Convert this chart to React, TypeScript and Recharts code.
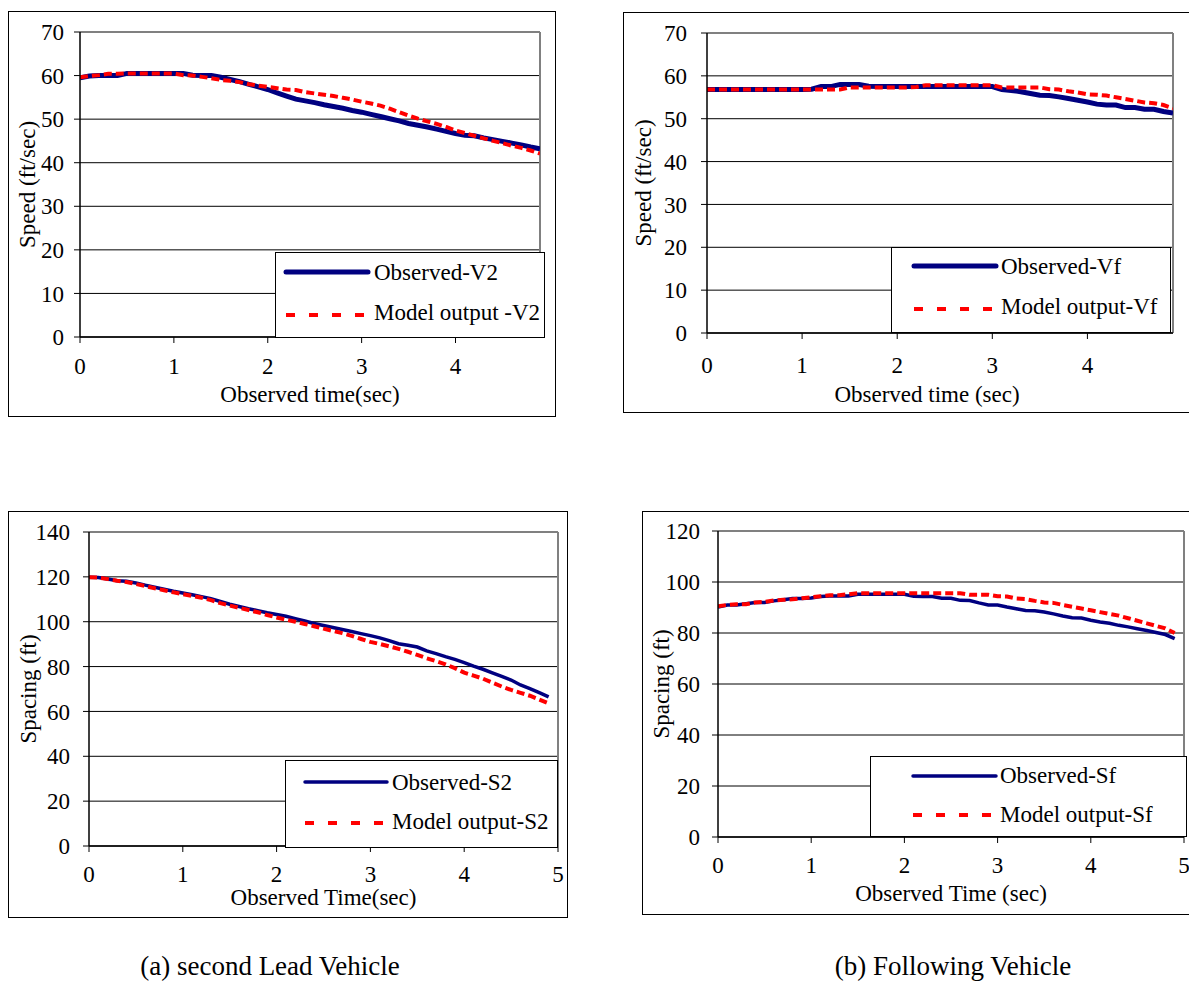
import React from "react";
import {
  LineChart,
  Line,
  XAxis,
  YAxis,
  CartesianGrid,
  ReferenceLine,
  Legend,
  Label,
} from "recharts";

const FONT = "'Liberation Serif', 'Times New Roman', serif";

// time axis, 0.1 s steps
const TIME = [
  0, 0.1, 0.2, 0.3, 0.4, 0.5, 0.6, 0.7, 0.8, 0.9,
  1, 1.1, 1.2, 1.3, 1.4, 1.5, 1.6, 1.7, 1.8, 1.9,
  2, 2.1, 2.2, 2.3, 2.4, 2.5, 2.6, 2.7, 2.8, 2.9,
  3, 3.1, 3.2, 3.3, 3.4, 3.5, 3.6, 3.7, 3.8, 3.9,
  4, 4.1, 4.2, 4.3, 4.4, 4.5, 4.6, 4.7, 4.8, 4.9,
];

// (a) second lead vehicle - speed
const V2_OBS = [
  59.5, 59.9, 60.0, 60.0, 60.0, 60.5, 60.5, 60.5, 60.5, 60.5,
  60.5, 60.5, 60.1, 60.0, 60.0, 59.6, 59.1, 58.6, 58.0, 57.4,
  56.8, 56.0, 55.3, 54.6, 54.2, 53.8, 53.3, 52.9, 52.5, 52.0,
  51.6, 51.1, 50.6, 50.1, 49.6, 49.0, 48.6, 48.2, 47.7, 47.2,
  46.7, 46.3, 46.2, 45.7, 45.3, 44.9, 44.5, 44.1, 43.6, 43.2,
];
const V2_MODEL = [
  59.6, 59.9, 60.1, 60.4, 60.4, 60.5, 60.5, 60.5, 60.5, 60.5,
  60.5, 60.1, 60.0, 59.7, 59.4, 59.0, 58.8, 58.5, 58.0, 57.7,
  57.4, 57.1, 56.8, 56.7, 56.2, 55.9, 55.6, 55.3, 54.9, 54.5,
  54.0, 53.6, 53.1, 52.4, 51.6, 50.8, 50.1, 49.5, 48.9, 48.2,
  47.4, 46.8, 46.2, 45.6, 45.0, 44.5, 43.9, 43.4, 42.8, 42.1,
];

// (b) following vehicle - speed
const VF_OBS = [
  56.8, 56.8, 56.8, 56.8, 56.8, 56.8, 56.8, 56.8, 56.8, 56.8,
  56.8, 56.9, 57.5, 57.5, 58.0, 58.0, 58.0, 57.6, 57.5, 57.5,
  57.5, 57.5, 57.5, 57.5, 57.5, 57.5, 57.5, 57.5, 57.5, 57.5,
  57.5, 56.8, 56.6, 56.3, 55.9, 55.5, 55.4, 55.1, 54.7, 54.3,
  53.9, 53.4, 53.2, 53.2, 52.6, 52.6, 52.2, 52.2, 51.7, 51.3,
];
const VF_MODEL = [
  56.8, 56.8, 56.8, 56.8, 56.8, 56.8, 56.8, 56.8, 56.8, 56.8,
  56.8, 56.8, 56.8, 56.8, 56.8, 57.3, 57.3, 57.3, 57.3, 57.3,
  57.3, 57.3, 57.4, 57.8, 57.8, 57.8, 57.8, 57.8, 57.8, 57.8,
  57.8, 57.3, 57.3, 57.3, 57.3, 57.3, 56.9, 56.8, 56.4, 56.1,
  55.7, 55.6, 55.4, 55.0, 54.6, 54.2, 53.8, 53.6, 53.2, 52.4,
];

// (a) second lead vehicle - spacing
const S2_OBS = [
  119.8, 119.7, 119.0, 118.3, 118.0, 117.3, 116.3, 115.4, 114.5, 113.6,
  112.8, 112.0, 111.2, 110.3, 109.0, 107.8, 106.8, 105.8, 104.9, 104.0,
  103.2, 102.4, 101.4, 100.3, 99.2, 98.3, 97.4, 96.5, 95.6, 94.7,
  93.8, 92.8, 91.6, 90.2, 89.5, 88.7, 87.0, 85.8, 84.4, 83.2,
  81.8, 80.2, 78.8, 77.2, 75.6, 74.0, 71.8, 70.2, 68.4, 66.5,
];
const S2_MODEL = [
  119.8, 119.7, 119.0, 118.3, 117.7, 116.8, 115.9, 114.9, 114.0, 113.1,
  112.3, 111.5, 110.7, 109.6, 108.3, 107.2, 106.2, 105.2, 104.2, 103.0,
  101.9, 100.9, 100.0, 99.0, 98.0, 96.9, 95.9, 94.9, 93.7, 92.3,
  91.0, 90.1, 89.0, 87.9, 86.6, 85.2, 83.7, 82.4, 81.0, 79.3,
  77.3, 76.0, 74.6, 72.8, 71.1, 69.6, 68.3, 67.0, 65.3, 63.6,
];

// (b) following vehicle - spacing
const SF_OBS = [
  90.2, 91.0, 91.0, 91.5, 92.0, 92.0, 92.6, 93.0, 93.5, 93.5,
  93.7, 94.3, 94.5, 94.5, 94.5, 95.2, 95.2, 95.2, 95.2, 95.2,
  95.2, 94.4, 94.3, 94.3, 93.6, 93.6, 92.8, 92.7, 91.8, 91.0,
  91.0, 90.2, 89.5, 88.8, 88.7, 88.2, 87.5, 86.7, 86.0, 85.9,
  85.0, 84.3, 83.8, 83.0, 82.4, 81.7, 81.0, 80.2, 79.4, 77.8,
];
const SF_MODEL = [
  90.5, 91.0, 91.3, 91.3, 92.0, 92.2, 92.8, 93.0, 93.2, 93.6,
  94.0, 94.4, 94.8, 94.8, 95.2, 95.6, 95.6, 95.6, 95.6, 95.6,
  95.6, 95.6, 95.6, 95.6, 95.6, 95.6, 95.6, 95.0, 95.0, 95.0,
  94.4, 94.3, 93.5, 93.3, 92.6, 92.0, 91.8, 91.0, 90.3, 89.6,
  88.9, 88.2, 87.5, 86.8, 85.8, 84.8, 83.8, 82.8, 81.8, 80.0,
];

const SPEED_TICKS = [0, 10, 20, 30, 40, 50, 60, 70];
const S2_TICKS = [0, 20, 40, 60, 80, 100, 120, 140];
const SF_TICKS = [0, 20, 40, 60, 80, 100, 120];
const T_TICKS_4 = [0, 1, 2, 3, 4];
const T_TICKS_5 = [0, 1, 2, 3, 4, 5];

const CAPTIONS = ["(a) second Lead Vehicle", "(b) Following Vehicle"];

const PANELS = [
  {
    left: 8, top: 11, width: 548, height: 406,
    mTop: 21, mRight: 16, yWidth: 72, xHeight: 80,
    xMax: 4.9, xTicks: T_TICKS_4, yMax: 70, yTicks: SPEED_TICKS,
    yTickMargin: 10, xTickMargin: 15,
    yLabel: "Speed (ft/sec)", yLabelOffset: 19,
    xLabel: "Observed time(sec)", xLabelOffset: 15, xLabelDx: 0,
    obs: V2_OBS, model: V2_MODEL,
    obsName: "Observed-V2", modelName: "Model output -V2",
    obsWidth: 5, fontSize: 23,
    lg: { left: 267, top: 241, width: 270, height: 86, x1: 11, x2: 93, y1: 20, y2: 63, tx: 99, t1: 28, t2: 68 },
  },
  {
    left: 623, top: 12, width: 572, height: 401,
    mTop: 21, mRight: 22, yWidth: 84, xHeight: 80,
    xMax: 4.9, xTicks: T_TICKS_4, yMax: 70, yTicks: SPEED_TICKS,
    yTickMargin: 14, xTickMargin: 18,
    yLabel: "Speed (ft/sec)", yLabelOffset: 20,
    xLabel: "Observed time (sec)", xLabelOffset: 11, xLabelDx: -13,
    obs: VF_OBS, model: VF_MODEL,
    obsName: "Observed-Vf", modelName: "Model output-Vf",
    obsWidth: 5, fontSize: 23,
    lg: { left: 268, top: 235, width: 280, height: 86, x1: 23, x2: 105, y1: 19, y2: 62, tx: 110, t1: 27, t2: 67 },
  },
  {
    left: 8, top: 511, width: 560, height: 407,
    mTop: 21, mRight: 10, yWidth: 81, xHeight: 72,
    xMax: 5, xTicks: T_TICKS_5, yMax: 140, yTicks: S2_TICKS,
    yTickMargin: 13, xTickMargin: 14,
    yLabel: "Spacing (ft)", yLabelOffset: 20,
    xLabel: "Observed Time(sec)", xLabelOffset: 13, xLabelDx: 0,
    obs: S2_OBS, model: S2_MODEL,
    obsName: "Observed-S2", modelName: "Model output-S2",
    obsWidth: 3.5, fontSize: 23,
    lg: { left: 277, top: 249, width: 273, height: 88, x1: 20, x2: 102, y1: 22, y2: 63, tx: 107, t1: 30, t2: 69 },
  },
  {
    left: 642, top: 511, width: 560, height: 404,
    mTop: 20, mRight: 18, yWidth: 76, xHeight: 78,
    xMax: 5, xTicks: T_TICKS_5, yMax: 120, yTicks: SF_TICKS,
    yTickMargin: 12, xTickMargin: 14,
    yLabel: "Spacing (ft)", yLabelOffset: 19,
    xLabel: "Observed Time (sec)", xLabelOffset: 14, xLabelDx: 0,
    obs: SF_OBS, model: SF_MODEL,
    obsName: "Observed-Sf", modelName: "Model output-Sf",
    obsWidth: 3.5, fontSize: 23,
    lg: { left: 228, top: 245, width: 317, height: 81, x1: 43, x2: 126, y1: 20, y2: 59, tx: 130, t1: 27, t2: 66 },
  },
];

const LINE_STYLE: any = {
  obs: { dash: undefined, legendDash: undefined },
  model: { dash: "8 4", legendDash: "9 14" },
};
const LEGEND_ORDER = ["obs", "model"];

function BoxLegend({ payload, lg, widths, fontSize }: any) {
  const items = [...(payload || [])].sort(
    (a: any, b: any) => LEGEND_ORDER.indexOf(a.dataKey) - LEGEND_ORDER.indexOf(b.dataKey)
  );
  const ys = [lg.y1, lg.y2];
  const ts = [lg.t1, lg.t2];
  return (
    <div
      style={{
        position: "relative",
        width: lg.width,
        height: lg.height,
        boxSizing: "border-box",
        border: "1px solid #000",
        background: "#fff",
      }}
    >
      <svg width={lg.width} height={lg.height} style={{ position: "absolute", left: -1, top: -1 }}>
        {items.map((it: any, i: number) => (
          <g key={it.dataKey}>
            <line
              x1={lg.x1}
              x2={lg.x2}
              y1={ys[i]}
              y2={ys[i]}
              stroke={it.color}
              strokeWidth={widths[it.dataKey]}
              strokeDasharray={LINE_STYLE[it.dataKey].legendDash}
              strokeLinecap={it.dataKey === "obs" ? "round" : "butt"}
            />
            <text x={lg.tx} y={ts[i]} fontFamily={FONT} fontSize={fontSize} fill="#000">
              {it.value}
            </text>
          </g>
        ))}
      </svg>
    </div>
  );
}

function Panel({ p }: any) {
  const data = TIME.map((t, i) => ({ t, obs: p.obs[i], model: p.model[i] }));
  const tick = { fill: "#000", fontSize: p.fontSize, fontFamily: FONT };
  return (
    <>
      <div
        style={{
          position: "absolute",
          left: p.left,
          top: p.top,
          width: p.width,
          height: p.height,
          boxSizing: "border-box",
          border: "1px solid #000",
        }}
      />
      <div style={{ position: "absolute", left: p.left, top: p.top }}>
        <LineChart
          width={p.width}
          height={p.height}
          data={data}
          margin={{ top: p.mTop, right: p.mRight, left: 0, bottom: 0 }}
        >
          <CartesianGrid vertical={false} stroke="#000" strokeWidth={1} />
          <XAxis
            dataKey="t"
            type="number"
            domain={[0, p.xMax]}
            ticks={p.xTicks}
            interval={0}
            height={p.xHeight}
            tickSize={6}
            tickMargin={p.xTickMargin}
            tick={tick}
            axisLine={{ stroke: "#000", strokeWidth: 1.5 }}
            tickLine={{ stroke: "#000" }}
            allowDataOverflow
          >
            <Label
              value={p.xLabel}
              position="insideBottom"
              offset={p.xLabelOffset}
              dx={p.xLabelDx}
              fill="#000"
              fontSize={p.fontSize}
              fontFamily={FONT}
            />
          </XAxis>
          <YAxis
            type="number"
            domain={[0, p.yMax]}
            ticks={p.yTicks}
            interval={0}
            width={p.yWidth}
            tickSize={6}
            tickMargin={p.yTickMargin}
            tick={tick}
            axisLine={{ stroke: "#000", strokeWidth: 1.5 }}
            tickLine={{ stroke: "#000" }}
          >
            <Label
              value={p.yLabel}
              position="insideLeft"
              angle={-90}
              offset={p.yLabelOffset}
              fill="#000"
              fontSize={p.fontSize}
              fontFamily={FONT}
              style={{ textAnchor: "middle" }}
            />
          </YAxis>
          <ReferenceLine y={p.yMax} stroke="#808080" strokeWidth={2} />
          <ReferenceLine x={p.xMax} stroke="#808080" strokeWidth={2} />
          <Line
            type="linear"
            dataKey="obs"
            name={p.obsName}
            stroke="#000080"
            strokeWidth={p.obsWidth}
            dot={false}
            isAnimationActive={false}
          />
          <Line
            type="linear"
            dataKey="model"
            name={p.modelName}
            stroke="#ff0000"
            strokeWidth={4}
            strokeDasharray={LINE_STYLE.model.dash}
            dot={false}
            isAnimationActive={false}
          />
          <Legend
            layout="vertical"
            align="center"
            verticalAlign="middle"
            wrapperStyle={{
              left: p.lg.left,
              top: p.lg.top,
              width: p.lg.width,
              height: p.lg.height,
            }}
            content={(props: any) => (
              <BoxLegend
                payload={props.payload}
                lg={p.lg}
                widths={{ obs: p.obsWidth, model: 4 }}
                fontSize={p.fontSize}
              />
            )}
          />
        </LineChart>
      </div>
    </>
  );
}

export default function App() {
  return (
    <div
      style={{
        position: "absolute",
        left: 0,
        top: 0,
        width: 1189,
        height: 983,
        overflow: "hidden",
        background: "#fff",
        fontFamily: FONT,
      }}
    >
      {PANELS.map((p, i) => (
        <Panel key={i} p={p} />
      ))}
      <div style={{ position: "absolute", left: 70, width: 400, top: 951, lineHeight: "30px", fontSize: 27, textAlign: "center" }}>
        {CAPTIONS[0]}
      </div>
      <div style={{ position: "absolute", left: 753, width: 400, top: 951, lineHeight: "30px", fontSize: 27, textAlign: "center" }}>
        {CAPTIONS[1]}
      </div>
    </div>
  );
}
